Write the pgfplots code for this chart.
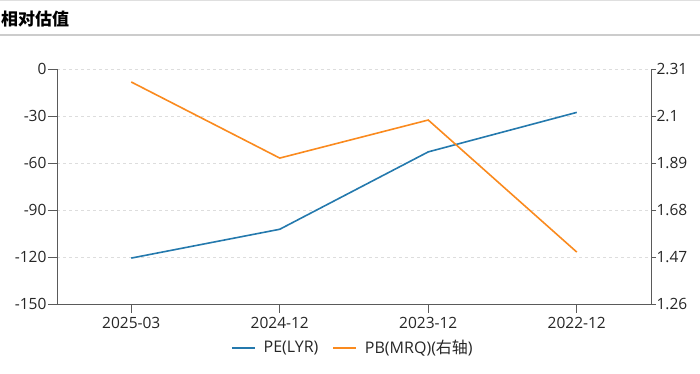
\documentclass[border=0pt]{standalone}
\usepackage{fontspec}
\setmainfont{Open Sans}
\newfontfamily\cjk{Noto Sans CJK SC}
\usepackage{pgfplots}
\pgfplotsset{compat=1.18}
\definecolor{peblue}{RGB}{36,121,173}
\definecolor{pborange}{RGB}{250,138,30}
\definecolor{axisgray}{RGB}{90,90,90}
\definecolor{gridgray}{RGB}{221,221,221}
\begin{document}
\begin{tikzpicture}[x=1pt,y=1pt]
\useasboundingbox (0,0) rectangle (700,374);
\fill[gray!25] (0,372.5) rectangle (700,374);
\draw[gray!40, line width=1.2pt] (0,339) -- (700,339);
\node[anchor=west, inner sep=0pt] at (1,355) {\fontsize{17}{19}\selectfont\cjk\bfseries 相对估值};
\begin{axis}[
  at={(57pt,70pt)}, anchor=south west,
  scale only axis, width=594pt, height=235pt,
  xmin=-0.5, xmax=3.5, ymin=-150, ymax=0,
  xtick={0,1,2,3},
  xticklabels={2025-03,2024-12,2023-12,2022-12},
  ytick={-150,-120,-90,-60,-30,0},
  axis x line*=bottom, axis y line*=left,
  axis line style={color=axisgray, line width=0.9pt},
  ymajorgrids, grid style={dashed, gridgray, line width=0.8pt},
  tick align=outside, major tick length=9pt,
  tick style={color=axisgray, line width=0.9pt},
  ticklabel style={font=\fontsize{15.5}{17}\selectfont, text=black!85},
  /pgf/number format/assume math mode=true,
  xticklabel style={yshift=-0.5pt},
  yticklabel style={xshift=2pt},
  clip=false,
]
\addplot[peblue, line width=1.6pt] coordinates {(0,-120.7) (1,-102.3) (2,-52.9) (3,-27.7)};
\end{axis}
\begin{axis}[
  at={(57pt,70pt)}, anchor=south west,
  scale only axis, width=594pt, height=235pt,
  xmin=-0.5, xmax=3.5, ymin=1.26, ymax=2.31,
  ytick={1.26,1.47,1.68,1.89,2.1,2.31},
  yticklabels={1.26,1.47,1.68,1.89,2.1,2.31},
  axis x line=none, axis y line*=right,
  axis line style={color=axisgray, line width=0.9pt},
  tick align=outside, major tick length=5pt,
  tick style={color=axisgray, line width=0.9pt},
  ticklabel style={font=\fontsize{15.5}{17}\selectfont, text=black!85},
  yticklabel style={xshift=-3pt},
  legend style={at={(0.498,-0.187)}, anchor=center, draw=none, fill=none,
    legend columns=2, font=\fontsize{16}{18}\selectfont, text=black!85,
    /tikz/every even column/.append style={column sep=12pt}},
  legend image code/.code={\draw[#1] (0pt,0pt) -- (23pt,0pt); \path (29pt,0pt);},
  clip=false,
]
\addlegendimage{peblue, line width=1.8pt}
\addlegendentry{PE(LYR)}
\addplot[pborange, line width=1.6pt] coordinates {(0,2.252) (1,1.912) (2,2.082) (3,1.492)};
\addlegendentry{PB(MRQ)({\cjk 右轴})}
\end{axis}
\end{tikzpicture}
\end{document}
